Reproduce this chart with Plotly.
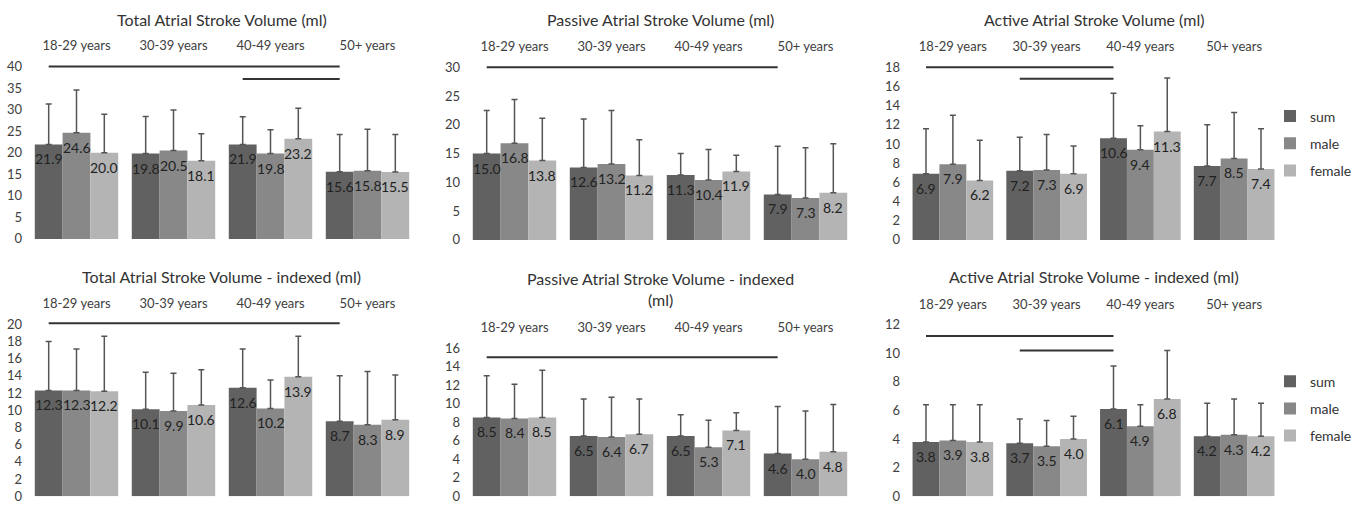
import plotly.graph_objects as go

FONT = "Lato"
W, H = 1357, 512

age_groups = ["18-29 years", "30-39 years", "40-49 years", "50+ years"]
series_names = ["sum", "male", "female"]
series_colors = ["#616161", "#888888", "#b4b4b4"]

# Total Atrial Stroke Volume (ml)
total_sum = [21.9, 19.8, 21.9, 15.6]
total_male = [24.6, 20.5, 19.8, 15.8]
total_female = [20.0, 18.1, 23.2, 15.5]
total_sum_sd = [9.4, 8.6, 6.4, 8.6]
total_male_sd = [9.9, 9.4, 5.5, 9.6]
total_female_sd = [8.9, 6.3, 7.1, 8.7]
total_sig = [(0, 3, 40.0), (2, 3, 37.1)]

# Passive Atrial Stroke Volume (ml)
passive_sum = [15.0, 12.6, 11.3, 7.9]
passive_male = [16.8, 13.2, 10.4, 7.3]
passive_female = [13.8, 11.2, 11.9, 8.2]
passive_sum_sd = [7.5, 8.4, 3.7, 8.4]
passive_male_sd = [7.6, 9.3, 5.3, 8.7]
passive_female_sd = [7.35, 6.2, 2.8, 8.5]
passive_sig = [(0, 3, 30.0)]

# Active Atrial Stroke Volume (ml)
active_sum = [6.9, 7.2, 10.6, 7.7]
active_male = [7.9, 7.3, 9.4, 8.5]
active_female = [6.2, 6.9, 11.3, 7.4]
active_sum_sd = [4.7, 3.5, 4.7, 4.3]
active_male_sd = [5.1, 3.7, 2.5, 4.8]
active_female_sd = [4.2, 2.9, 5.6, 4.2]
active_sig = [(0, 2, 18.0), (1, 2, 16.8)]

# Total Atrial Stroke Volume - indexed (ml)
total_idx_sum = [12.3, 10.1, 12.6, 8.7]
total_idx_male = [12.3, 9.9, 10.2, 8.3]
total_idx_female = [12.2, 10.6, 13.9, 8.9]
total_idx_sum_sd = [5.7, 4.3, 4.5, 5.3]
total_idx_male_sd = [4.8, 4.4, 3.3, 6.2]
total_idx_female_sd = [6.4, 4.1, 4.7, 5.2]
total_idx_sig = [(0, 3, 20.1)]

# Passive Atrial Stroke Volume - indexed (ml)
passive_idx_sum = [8.5, 6.5, 6.5, 4.6]
passive_idx_male = [8.4, 6.4, 5.3, 4.0]
passive_idx_female = [8.5, 6.7, 7.1, 4.8]
passive_idx_sum_sd = [4.5, 4.0, 2.3, 5.1]
passive_idx_male_sd = [3.7, 4.3, 2.9, 5.2]
passive_idx_female_sd = [5.1, 3.8, 1.9, 5.1]
passive_idx_sig = [(0, 3, 15.0)]

# Active Atrial Stroke Volume - indexed (ml)
active_idx_sum = [3.8, 3.7, 6.1, 4.2]
active_idx_male = [3.9, 3.5, 4.9, 4.3]
active_idx_female = [3.8, 4.0, 6.8, 4.2]
active_idx_sum_sd = [2.6, 1.7, 3.0, 2.3]
active_idx_male_sd = [2.5, 1.8, 1.5, 2.5]
active_idx_female_sd = [2.6, 1.6, 3.4, 2.3]
active_idx_sig = [(0, 2, 11.2), (1, 2, 10.2)]

panels = [
    dict(title="Total Atrial Stroke Volume (ml)",
         vals=[total_sum, total_male, total_female],
         sds=[total_sum_sd, total_male_sd, total_female_sd],
         sig=total_sig, ymax=40, dtick=5,
         px=(28, 416), py=(240, 63), ty=15, legend=None),
    dict(title="Passive Atrial Stroke Volume (ml)",
         vals=[passive_sum, passive_male, passive_female],
         sds=[passive_sum_sd, passive_male_sd, passive_female_sd],
         sig=passive_sig, ymax=30, dtick=5,
         px=(466, 854), py=(241, 64), ty=15, legend=None),
    dict(title="Active Atrial Stroke Volume (ml)",
         vals=[active_sum, active_male, active_female],
         sds=[active_sum_sd, active_male_sd, active_female_sd],
         sig=active_sig, ymax=18, dtick=2,
         px=(906, 1281), py=(241, 64), ty=15, legend="legend"),
    dict(title="Total Atrial Stroke Volume - indexed (ml)",
         vals=[total_idx_sum, total_idx_male, total_idx_female],
         sds=[total_idx_sum_sd, total_idx_male_sd, total_idx_female_sd],
         sig=total_idx_sig, ymax=20, dtick=2,
         px=(28, 416), py=(504, 327.5), ty=279, legend=None),
    dict(title="Passive Atrial Stroke Volume - indexed<br>(ml)",
         vals=[passive_idx_sum, passive_idx_male, passive_idx_female],
         sds=[passive_idx_sum_sd, passive_idx_male_sd, passive_idx_female_sd],
         sig=passive_idx_sig, ymax=16, dtick=2,
         px=(466, 854), py=(504, 352), ty=291, legend=None),
    dict(title="Active Atrial Stroke Volume - indexed (ml)",
         vals=[active_idx_sum, active_idx_male, active_idx_female],
         sds=[active_idx_sum_sd, active_idx_male_sd, active_idx_female_sd],
         sig=active_idx_sig, ymax=12, dtick=2,
         px=(906, 1281), py=(504, 328), ty=279, legend="legend2"),
]

BARGAP = 0.14
bar_w = (1 - BARGAP) / 3
xs = list(range(len(age_groups)))

fig = go.Figure()
layout = dict(
    width=W, height=H,
    margin=dict(l=0, r=0, t=0, b=0),
    paper_bgcolor="white", plot_bgcolor="white",
    barmode="group", bargap=BARGAP, bargroupgap=0,
    font=dict(family=FONT, color="#404040", size=13),
    annotations=[], shapes=[],
)

PAD = 1.02
for k, p in enumerate(panels, start=1):
    xa = "x" if k == 1 else f"x{k}"
    ya = "y" if k == 1 else f"y{k}"
    for s, (name, color) in enumerate(zip(series_names, series_colors)):
        vals = p["vals"][s]
        fig.add_trace(go.Bar(
            x=xs, y=vals, name=name, xaxis=xa, yaxis=ya,
            marker=dict(color=color, line=dict(width=0)),
            error_y=dict(type="data", array=p["sds"][s], arrayminus=[0] * len(vals),
                         symmetric=False, color="#555555", thickness=1.5, width=3),
            showlegend=p["legend"] is not None,
            legend=p["legend"] if p["legend"] else "legend",
            legendgroup=f"{name}{k}",
            hoverinfo="skip",
        ))
        # value labels just inside the top of each bar
        for xi, v in zip(xs, vals):
            layout["annotations"].append(dict(
                text=f"{v:.1f}", x=xi + (s - 1) * bar_w, y=v, xref=xa, yref=ya,
                xanchor="center", yanchor="middle", yshift=-14.5, showarrow=False,
                font=dict(family=FONT, size=14, color="#222222"),
            ))
    x0p, x1p = p["px"]
    zero_px, max_px = p["py"]
    top_px = zero_px - (zero_px - max_px) * PAD
    suffix = "" if k == 1 else str(k)
    layout[f"xaxis{suffix}"] = dict(
        domain=[x0p / W, x1p / W], anchor=ya, range=[-0.5, len(xs) - 0.5],
        tickvals=xs, ticktext=age_groups, side="top",
        showgrid=False, zeroline=False, showline=False, ticks="",
        ticklabelstandoff=9, tickfont=dict(size=13, color="#404040"),
        fixedrange=True,
    )
    layout[f"yaxis{suffix}"] = dict(
        domain=[1 - zero_px / H, 1 - top_px / H], anchor=xa,
        range=[0, p["ymax"] * PAD],
        tickvals=list(range(0, p["ymax"] + 1, p["dtick"])),
        showgrid=False, zeroline=False, showline=False, ticks="",
        ticklabelstandoff=5, tickfont=dict(size=13, color="#404040"),
        fixedrange=True,
    )
    layout["annotations"].append(dict(
        text=p["title"], x=(x0p + x1p) / 2 / W, y=1 - p["ty"] / H,
        xref="paper", yref="paper", xanchor="center", yanchor="middle",
        showarrow=False, font=dict(family=FONT, size=16, color="#333333"),
    ))
    for (i0, i1, yv) in p["sig"]:
        layout["shapes"].append(dict(
            type="line", xref=xa, yref=ya,
            x0=i0 - bar_w, x1=i1 - bar_w, y0=yv, y1=yv,
            line=dict(color="#333333", width=2),
        ))

leg_common = dict(
    xanchor="left", yanchor="top", bgcolor="rgba(0,0,0,0)", borderwidth=0,
    font=dict(family=FONT, size=14, color="#333333"),
    traceorder="grouped", tracegroupgap=6, itemclick=False, itemdoubleclick=False,
)
layout["legend"] = dict(x=1270 / W, y=1 - 98 / H, **leg_common)
layout["legend2"] = dict(x=1270 / W, y=1 - 370 / H, **leg_common)

fig.update_layout(**layout)
fig.write_html("out.html")
